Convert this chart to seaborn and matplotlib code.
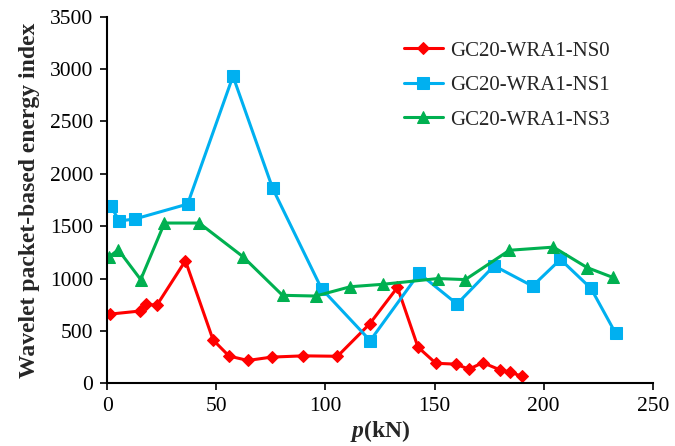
import matplotlib
matplotlib.use("Agg")
import matplotlib.pyplot as plt
import seaborn as sns
import pandas as pd

sns.set_style("ticks")
plt.rcParams["font.family"] = ["Liberation Serif", "DejaVu Serif"]
plt.rcParams["mathtext.fontset"] = "custom"
plt.rcParams["mathtext.bfit"] = "Liberation Serif:italic:bold"

# Load (kN) and wavelet packet-based energy index for each specimen
ns0_p = [1, 15, 17.6, 22.7, 35.8, 48.5, 55.8, 64.4, 75.3, 89.8, 105.5, 120.2, 133,
         142.4, 150.6, 159.6, 165.8, 172.1, 180, 184.5, 190.3]
ns0_e = [660, 690, 755, 745, 1170, 413, 260, 218, 250, 262, 258, 566, 916,
         345, 191, 183, 135, 197, 128, 107, 65]

ns1_p = [1.5, 5.5, 12.9, 36.8, 57.6, 75.8, 98.2, 120.5, 142.9, 160.3, 177.3,
         194.9, 207.7, 221.7, 233]
ns1_e = [1695, 1549, 1570, 1711, 2932, 1860, 903, 407, 1050, 757, 1122,
         928, 1183, 906, 477]

ns3_p = [0.9, 5, 15.3, 26.2, 42.1, 62.1, 80.3, 95.5, 111.4, 126.2, 151.5,
         164.1, 184.3, 204.5, 219.9, 231.8]
ns3_e = [1208, 1275, 990, 1530, 1530, 1210, 840, 833, 922, 945, 1000,
         990, 1270, 1300, 1105, 1010]

labels = ["GC20-WRA1-NS0", "GC20-WRA1-NS1", "GC20-WRA1-NS3"]
colors = ["#FF0000", "#00B0F0", "#00B050"]
markers = ["D", "s", "^"]
msizes = [6.5, 8.5, 8.5]

fig = plt.figure(figsize=(6.75, 4.46), dpi=100)
ax = fig.add_axes([0.159, 0.1406, 0.808, 0.822])

series = [(ns0_p, ns0_e), (ns1_p, ns1_e), (ns3_p, ns3_e)]
for (p, e), lab, c, m, ms in zip(series, labels, colors, markers, msizes):
    df = pd.DataFrame({"p": p, "e": e})
    sns.lineplot(data=df, x="p", y="e", sort=False, ax=ax, color=c,
                 marker=m, markersize=ms, markeredgecolor=c,
                 linewidth=2.2, label=lab)

ax.set_xlim(0, 250)
ax.set_ylim(0, 3500)
ax.set_xticks(range(0, 251, 50))
ax.set_yticks(range(0, 3501, 500))
ax.tick_params(axis="both", direction="out", length=5, width=1.2,
               labelsize=15.5, colors="black", pad=5)
for s in ["left", "bottom"]:
    ax.spines[s].set_linewidth(1.5)
    ax.spines[s].set_color("black")
sns.despine(ax=ax)

ax.set_xlabel(r"$\boldsymbol{p}$(kN)", fontsize=17, fontweight="bold", labelpad=1.5)
ax.set_ylabel("Wavelet packet-based energy index", fontsize=17,
              fontweight="bold", labelpad=7)

leg = ax.legend(loc="upper left", bbox_to_anchor=(0.51, 0.985), frameon=False,
                fontsize=15, handlelength=1.85, labelspacing=0.72,
                handletextpad=0.35)

fig.savefig("out.png", dpi=100)
